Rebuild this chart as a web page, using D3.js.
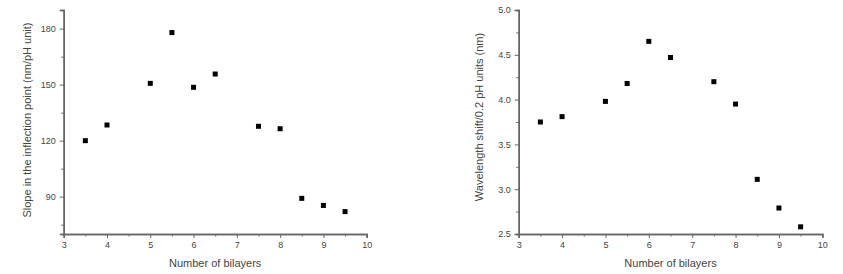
<!DOCTYPE html>
<html>
<head>
<meta charset="utf-8">
<script src="https://cdn.jsdelivr.net/npm/d3@7"></script>
<style>
  body { margin: 0; background: #fff; }
  svg text { font-family: "Liberation Sans", Arial, sans-serif; fill: #444; }
</style>
</head>
<body>
<svg id="chart" width="843" height="274"></svg>
<script>
// bilayer counts shared by both panels
const bilayers = [3.5, 4, 5, 5.5, 6, 6.5, 7.5, 8, 8.5, 9, 9.5];
// left panel: slope at inflection point (nm/pH unit)
const slopeValues = [120, 128.4, 150.7, 177.9, 148.6, 155.7, 127.7, 126.4, 89.1, 85.3, 82];
// right panel: wavelength shift per 0.2 pH units (nm)
const shiftValues = [3.75, 3.81, 3.98, 4.18, 4.65, 4.47, 4.2, 3.95, 3.11, 2.79, 2.58];

const xTicks = [3, 4, 5, 6, 7, 8, 9, 10];
const slopeTicks = [90, 120, 150, 180];
const shiftTicks = [2.5, 3.0, 3.5, 4.0, 4.5, 5.0];

const svg = d3.select("#chart");
const axisColor = "#666";

function panel(opts) {
  const g = svg.append("g");
  const x = d3.scaleLinear().domain([3, 10]).range([opts.left, opts.right]);
  const y = d3.scaleLinear().domain(opts.yDomain).range([234, 10]);

  // x axis with minor ticks at halves
  const xAxis = g.append("g").attr("transform", "translate(0,234)");
  xAxis.call(d3.axisBottom(x).tickValues(xTicks).tickSize(4).tickPadding(4).tickFormat(d3.format("d")));
  xAxis.append("g").call(d3.axisBottom(x).tickValues(d3.range(3.5, 10, 1)).tickSize(2.5).tickFormat(""));

  // y axis, major + minor
  const yAxis = g.append("g").attr("transform", `translate(${opts.left},0)`);
  yAxis.call(d3.axisLeft(y).tickValues(opts.yTicks).tickSize(4).tickPadding(4).tickFormat(opts.fmt));
  yAxis.append("g").call(d3.axisLeft(y).tickValues(opts.yMinor).tickSize(2.5).tickFormat(""));

  g.selectAll(".domain").attr("stroke", axisColor).attr("stroke-width", 1.5);
  g.selectAll(".tick line").attr("stroke", axisColor);
  g.selectAll(".tick text").attr("font-size", 9).attr("fill", "#444");
  g.selectAll(".domain").filter(function() { return this.parentNode.parentNode === g.node(); });

  // markers
  g.selectAll("rect.pt")
    .data(bilayers.map((b, i) => [b, opts.values[i]]))
    .join("rect")
    .attr("class", "pt")
    .attr("x", d => x(d[0]) - 2.5)
    .attr("y", d => y(d[1]) - 2.5)
    .attr("width", 5)
    .attr("height", 5)
    .attr("fill", "#000");

  // axis titles
  g.append("text")
    .attr("x", (opts.left + opts.right) / 2)
    .attr("y", 267)
    .attr("text-anchor", "middle")
    .attr("font-size", 11)
    .text("Number of bilayers");

  g.append("text")
    .attr("transform", `translate(${opts.yLabelX},${opts.yLabelY}) rotate(-90)`)
    .attr("text-anchor", "middle")
    .attr("font-size", 11)
    .text(opts.yLabel);
}

panel({
  left: 63.7, right: 366.7,
  yDomain: [70, 190],
  yTicks: slopeTicks,
  yMinor: [75, 105, 135, 165],
  fmt: d3.format("d"),
  values: slopeValues,
  yLabel: "Slope in the inflection point (nm/pH unit)",
  yLabelX: 31, yLabelY: 120
});

panel({
  left: 518.7, right: 822.3,
  yDomain: [2.5, 5.0],
  yTicks: shiftTicks,
  yMinor: [2.75, 3.25, 3.75, 4.25, 4.75],
  fmt: d3.format(".1f"),
  values: shiftValues,
  yLabel: "Wavelength shift/0.2 pH units (nm)",
  yLabelX: 483, yLabelY: 117
});
</script>
</body>
</html>
